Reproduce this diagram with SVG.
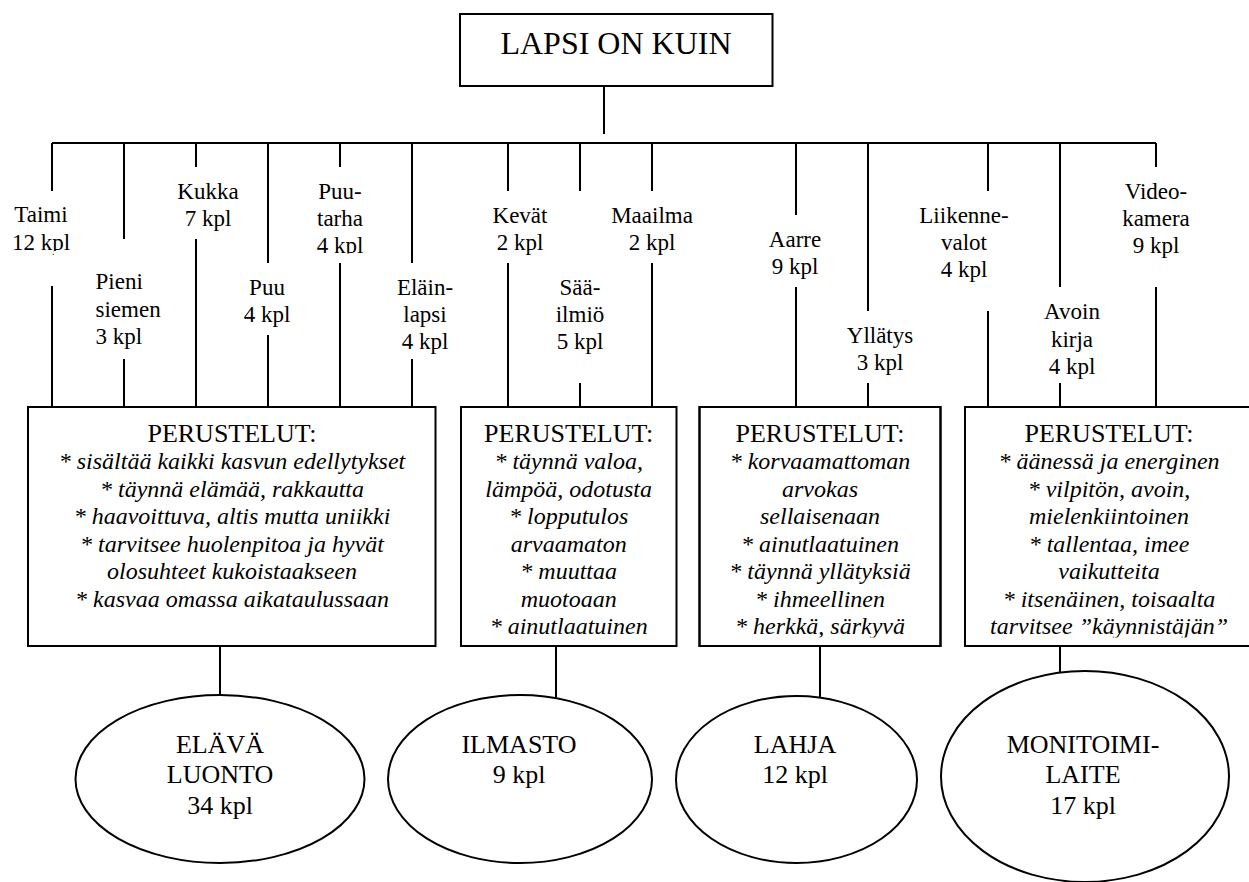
<svg xmlns="http://www.w3.org/2000/svg" width="1249" height="882" viewBox="0 0 1249 882">
<style>
.ln{stroke:#000;stroke-width:2;fill:none}
.box{stroke:#000;stroke-width:2;fill:#fff}
.frame{stroke:#000;stroke-width:2;fill:none}
.ell{stroke:#000;stroke-width:2;fill:#fff}
.mask{fill:#fff;stroke:none}
.lab{font-family:"Liberation Serif", serif !important;font-size:23px;text-anchor:middle}
.labl{font-family:"Liberation Serif", serif !important;font-size:23px;text-anchor:start}
.title{font-family:"Liberation Serif", serif !important;font-size:32px;text-anchor:middle}
.hd{font-family:"Liberation Serif", serif !important;font-size:26px;text-anchor:middle}
.it{font-family:"Liberation Serif", serif !important;font-size:24px;font-style:italic;text-anchor:middle}
.et{font-family:"Liberation Serif", serif !important;font-size:26px;text-anchor:middle}
</style>
<rect width="1249" height="882" fill="#fff"/>

<g id="connectors">
<line class="ln" x1="604" y1="86" x2="604" y2="134"/>
<line class="ln" x1="52" y1="143" x2="1156" y2="143"/>
<line class="ln" x1="52" y1="143" x2="52" y2="191"/><line class="ln" x1="52" y1="286" x2="52" y2="407"/>
<line class="ln" x1="124" y1="143" x2="124" y2="239"/><line class="ln" x1="124" y1="359" x2="124" y2="407"/>
<line class="ln" x1="196" y1="143" x2="196" y2="167"/><line class="ln" x1="196" y1="239" x2="196" y2="407"/>
<line class="ln" x1="268" y1="143" x2="268" y2="263"/><line class="ln" x1="268" y1="335" x2="268" y2="407"/>
<line class="ln" x1="340" y1="143" x2="340" y2="167"/><line class="ln" x1="340" y1="263" x2="340" y2="407"/>
<line class="ln" x1="412" y1="143" x2="412" y2="263"/><line class="ln" x1="412" y1="359" x2="412" y2="407"/>
<line class="ln" x1="508" y1="143" x2="508" y2="191"/><line class="ln" x1="508" y1="263" x2="508" y2="407"/>
<line class="ln" x1="580" y1="143" x2="580" y2="191"/><line class="ln" x1="580" y1="383" x2="580" y2="407"/>
<line class="ln" x1="652" y1="143" x2="652" y2="191"/><line class="ln" x1="652" y1="263" x2="652" y2="407"/>
<line class="ln" x1="796" y1="143" x2="796" y2="215"/><line class="ln" x1="796" y1="287" x2="796" y2="407"/>
<line class="ln" x1="868" y1="143" x2="868" y2="311"/><line class="ln" x1="868" y1="383" x2="868" y2="407"/>
<line class="ln" x1="988" y1="143" x2="988" y2="191"/><line class="ln" x1="988" y1="311" x2="988" y2="407"/>
<line class="ln" x1="1060" y1="143" x2="1060" y2="287"/><line class="ln" x1="1060" y1="383" x2="1060" y2="407"/>
<line class="ln" x1="1156" y1="143" x2="1156" y2="167"/><line class="ln" x1="1156" y1="287" x2="1156" y2="407"/>
<line class="ln" x1="220" y1="646" x2="220" y2="695"/>
<line class="ln" x1="556" y1="646" x2="556" y2="698"/>
<line class="ln" x1="820" y1="646" x2="820" y2="698"/>
<line class="ln" x1="1060" y1="646" x2="1060" y2="673"/>
</g>

<g id="node-root">
<rect class="box" x="460" y="14" width="312.5" height="72"/>
<text class="title" style="font-family:'Liberation Serif', serif !important" x="616" y="53.5">LAPSI ON KUIN</text>
</g>

<g id="node-taimi">
<text class="lab" style="font-family:'Liberation Serif', serif !important" x="41" y="222">Taimi</text>
<text class="lab" style="font-family:'Liberation Serif', serif !important" x="41" y="249.5">12 kpl</text>
<rect class="mask" x="10" y="251" width="36" height="8"/>
<rect class="mask" x="54" y="251" width="30" height="8"/>
</g>
<g id="node-pieni-siemen">
<text class="labl" style="font-family:'Liberation Serif', serif !important" x="95.5" y="289">Pieni</text>
<text class="labl" style="font-family:'Liberation Serif', serif !important" x="95.5" y="316.5">siemen</text>
<text class="labl" style="font-family:'Liberation Serif', serif !important" x="95.5" y="344">3 kpl</text>
</g>
<g id="node-kukka">
<text class="lab" style="font-family:'Liberation Serif', serif !important" x="208" y="199">Kukka</text>
<text class="lab" style="font-family:'Liberation Serif', serif !important" x="208" y="226">7 kpl</text>
</g>
<g id="node-puu">
<text class="lab" style="font-family:'Liberation Serif', serif !important" x="267" y="295">Puu</text>
<text class="lab" style="font-family:'Liberation Serif', serif !important" x="267" y="322">4 kpl</text>
</g>
<g id="node-puutarha">
<text class="lab" style="font-family:'Liberation Serif', serif !important" x="340" y="199">Puu-</text>
<text class="lab" style="font-family:'Liberation Serif', serif !important" x="340" y="226">tarha</text>
<text class="lab" style="font-family:'Liberation Serif', serif !important" x="340" y="253">4 kpl</text>
<rect class="mask" x="310" y="253.5" width="60" height="8.5"/>
</g>
<g id="node-elainlapsi">
<text class="lab" style="font-family:'Liberation Serif', serif !important" x="425" y="295">El&#228;in-</text>
<text class="lab" style="font-family:'Liberation Serif', serif !important" x="425" y="322">lapsi</text>
<text class="lab" style="font-family:'Liberation Serif', serif !important" x="425" y="349">4 kpl</text>
</g>
<g id="node-kevat">
<text class="lab" style="font-family:'Liberation Serif', serif !important" x="520" y="222.5">Kev&#228;t</text>
<text class="lab" style="font-family:'Liberation Serif', serif !important" x="520" y="249.5">2 kpl</text>
</g>
<g id="node-saailmio">
<text class="lab" style="font-family:'Liberation Serif', serif !important" x="580" y="295">S&#228;&#228;-</text>
<text class="lab" style="font-family:'Liberation Serif', serif !important" x="580" y="322">ilmi&#246;</text>
<text class="lab" style="font-family:'Liberation Serif', serif !important" x="580" y="349">5 kpl</text>
</g>
<g id="node-maailma">
<text class="lab" style="font-family:'Liberation Serif', serif !important" x="652" y="222.5">Maailma</text>
<text class="lab" style="font-family:'Liberation Serif', serif !important" x="652" y="249.5">2 kpl</text>
</g>
<g id="node-aarre">
<text class="lab" style="font-family:'Liberation Serif', serif !important" x="795" y="247">Aarre</text>
<text class="lab" style="font-family:'Liberation Serif', serif !important" x="795" y="274">9 kpl</text>
</g>
<g id="node-yllatys">
<text class="lab" style="font-family:'Liberation Serif', serif !important" x="880" y="343">Yll&#228;tys</text>
<text class="lab" style="font-family:'Liberation Serif', serif !important" x="880" y="370">3 kpl</text>
</g>
<g id="node-liikennevalot">
<text class="lab" style="font-family:'Liberation Serif', serif !important" x="964" y="222.5">Liikenne-</text>
<text class="lab" style="font-family:'Liberation Serif', serif !important" x="964" y="250">valot</text>
<text class="lab" style="font-family:'Liberation Serif', serif !important" x="964" y="277">4 kpl</text>
</g>
<g id="node-avoinkirja">
<text class="lab" style="font-family:'Liberation Serif', serif !important" x="1072" y="319">Avoin</text>
<text class="lab" style="font-family:'Liberation Serif', serif !important" x="1072" y="346.5">kirja</text>
<text class="lab" style="font-family:'Liberation Serif', serif !important" x="1072" y="374">4 kpl</text>
</g>
<g id="node-videokamera">
<text class="lab" style="font-family:'Liberation Serif', serif !important" x="1156" y="199">Video-</text>
<text class="lab" style="font-family:'Liberation Serif', serif !important" x="1156" y="226">kamera</text>
<text class="lab" style="font-family:'Liberation Serif', serif !important" x="1156" y="253">9 kpl</text>
</g>

<g id="node-box1">
<rect class="box" x="28" y="407" width="407.5" height="239"/>
<text class="hd" style="font-family:'Liberation Serif', serif !important" x="232" y="441.7">PERUSTELUT:</text>
<text class="it" style="font-family:'Liberation Serif', serif !important" x="232" y="469">* sis&#228;lt&#228;&#228; kaikki kasvun edellytykset</text>
<text class="it" style="font-family:'Liberation Serif', serif !important" x="232" y="496.5">* t&#228;ynn&#228; el&#228;m&#228;&#228;, rakkautta</text>
<text class="it" style="font-family:'Liberation Serif', serif !important" x="232" y="524">* haavoittuva, altis mutta uniikki</text>
<text class="it" style="font-family:'Liberation Serif', serif !important" x="232" y="551.5">* tarvitsee huolenpitoa ja hyv&#228;t</text>
<text class="it" style="font-family:'Liberation Serif', serif !important" x="232" y="579">olosuhteet kukoistaakseen</text>
<text class="it" style="font-family:'Liberation Serif', serif !important" x="232" y="606.5">* kasvaa omassa aikataulussaan</text>
</g>
<g id="node-box2">
<rect class="box" x="461" y="407" width="215.5" height="239"/>
<text class="hd" style="font-family:'Liberation Serif', serif !important" x="568.7" y="441.7">PERUSTELUT:</text>
<text class="it" style="font-family:'Liberation Serif', serif !important" x="568.7" y="469">* t&#228;ynn&#228; valoa,</text>
<text class="it" style="font-family:'Liberation Serif', serif !important" x="568.7" y="496.5">l&#228;mp&#246;&#228;, odotusta</text>
<text class="it" style="font-family:'Liberation Serif', serif !important" x="568.7" y="524">* lopputulos</text>
<text class="it" style="font-family:'Liberation Serif', serif !important" x="568.7" y="551.5">arvaamaton</text>
<text class="it" style="font-family:'Liberation Serif', serif !important" x="568.7" y="579">* muuttaa</text>
<text class="it" style="font-family:'Liberation Serif', serif !important" x="568.7" y="606.5">muotoaan</text>
<text class="it" style="font-family:'Liberation Serif', serif !important" x="568.7" y="634">* ainutlaatuinen</text>
</g>
<g id="node-box3">
<rect class="box" x="699.5" y="407" width="241" height="239"/>
<text class="hd" style="font-family:'Liberation Serif', serif !important" x="820" y="441.7">PERUSTELUT:</text>
<text class="it" style="font-family:'Liberation Serif', serif !important" x="820" y="469">* korvaamattoman</text>
<text class="it" style="font-family:'Liberation Serif', serif !important" x="820" y="496.5">arvokas</text>
<text class="it" style="font-family:'Liberation Serif', serif !important" x="820" y="524">sellaisenaan</text>
<text class="it" style="font-family:'Liberation Serif', serif !important" x="820" y="551.5">* ainutlaatuinen</text>
<text class="it" style="font-family:'Liberation Serif', serif !important" x="820" y="579">* t&#228;ynn&#228; yll&#228;tyksi&#228;</text>
<text class="it" style="font-family:'Liberation Serif', serif !important" x="820" y="606.5">* ihmeellinen</text>
<text class="it" style="font-family:'Liberation Serif', serif !important" x="820" y="634">* herkk&#228;, s&#228;rkyv&#228;</text>
<rect class="mask" x="701" y="637.5" width="238" height="8"/>
<rect class="frame" x="699.5" y="407" width="241" height="239"/>
</g>
<g id="node-box4">
<rect class="box" x="965" y="407" width="290" height="239"/>
<text class="hd" style="font-family:'Liberation Serif', serif !important" x="1109" y="441.7">PERUSTELUT:</text>
<text class="it" style="font-family:'Liberation Serif', serif !important" x="1109" y="469">* &#228;&#228;ness&#228; ja energinen</text>
<text class="it" style="font-family:'Liberation Serif', serif !important" x="1109" y="496.5">* vilpit&#246;n, avoin,</text>
<text class="it" style="font-family:'Liberation Serif', serif !important" x="1109" y="524">mielenkiintoinen</text>
<text class="it" style="font-family:'Liberation Serif', serif !important" x="1109" y="551.5">* tallentaa, imee</text>
<text class="it" style="font-family:'Liberation Serif', serif !important" x="1109" y="579">vaikutteita</text>
<text class="it" style="font-family:'Liberation Serif', serif !important" x="1109" y="606.5">* itsen&#228;inen, toisaalta</text>
<text class="it" style="font-family:'Liberation Serif', serif !important" x="1109" y="634">tarvitsee &#8221;k&#228;ynnist&#228;j&#228;n&#8221;</text>
<rect class="mask" x="966.5" y="637.5" width="285" height="8"/>
<rect class="frame" x="965" y="407" width="290" height="239"/>
</g>

<g id="node-elava-luonto">
<ellipse class="ell" cx="220" cy="779" rx="144.5" ry="84"/>
<text class="et" style="font-family:'Liberation Serif', serif !important" x="220" y="752.7">EL&#196;V&#196;</text>
<text class="et" style="font-family:'Liberation Serif', serif !important" x="220" y="783">LUONTO</text>
<text class="et" style="font-family:'Liberation Serif', serif !important" x="220" y="813.5">34 kpl</text>
</g>
<g id="node-ilmasto">
<ellipse class="ell" cx="520" cy="779" rx="132" ry="84"/>
<text class="et" style="font-family:'Liberation Serif', serif !important" x="519" y="752.7">ILMASTO</text>
<text class="et" style="font-family:'Liberation Serif', serif !important" x="519" y="783">9 kpl</text>
</g>
<g id="node-lahja">
<ellipse class="ell" cx="796.5" cy="779.5" rx="120.5" ry="83.5"/>
<text class="et" style="font-family:'Liberation Serif', serif !important" x="795" y="752.7">LAHJA</text>
<text class="et" style="font-family:'Liberation Serif', serif !important" x="795" y="783">12 kpl</text>
</g>
<g id="node-monitoimilaite">
<ellipse class="ell" cx="1085" cy="776.5" rx="144" ry="105.5"/>
<text class="et" style="font-family:'Liberation Serif', serif !important" x="1083" y="752.7">MONITOIMI-</text>
<text class="et" style="font-family:'Liberation Serif', serif !important" x="1083" y="783">LAITE</text>
<text class="et" style="font-family:'Liberation Serif', serif !important" x="1083" y="813.5">17 kpl</text>
</g>
</svg>
